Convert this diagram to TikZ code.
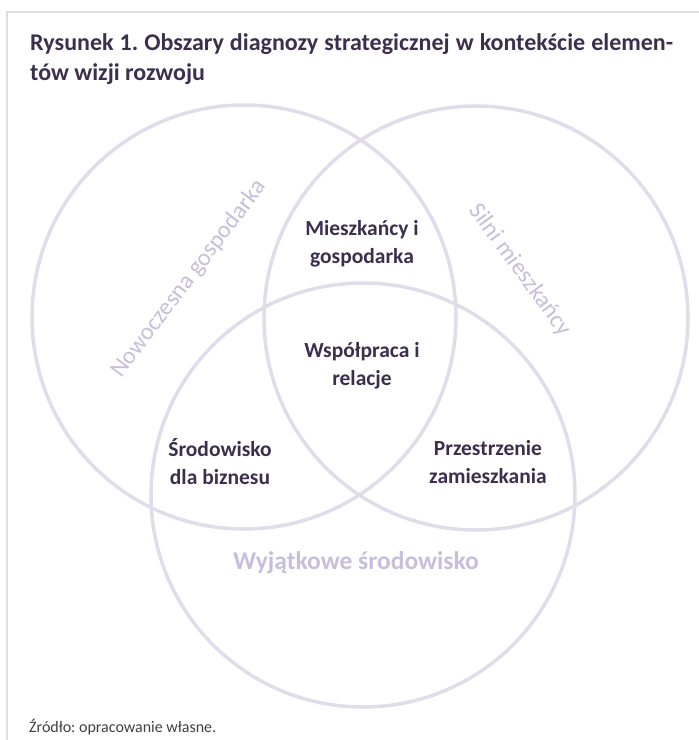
\documentclass[tikz,border=0pt]{standalone}
\usepackage{fontspec}
\setmainfont{Carlito}
\frenchspacing
\usetikzlibrary{positioning}
\definecolor{ramka}{HTML}{E0DBEC}
\definecolor{kolo}{HTML}{E0DCEA}
\definecolor{jasny}{HTML}{C6BEDA}
\definecolor{ciemny}{HTML}{3B2F4D}
\definecolor{zrodlo}{HTML}{404040}

\begin{document}
\begin{tikzpicture}[x=1pt, y=-1pt,
    kolko/.style={draw=kolo, line width=3.5pt},
    obszar/.style={font=\fontsize{21.5}{28}\selectfont\bfseries, text=ciemny, align=center, inner sep=0pt},
    element/.style={font=\fontsize{24}{28}\selectfont, text=jasny, inner sep=0pt}]
  \useasboundingbox (0,0) rectangle (699,740);
  % ramka
  \draw[ramka, line width=2pt] (7,740) -- (7,12) -- (699,12);

  % tytul
  \node[anchor=north west, text width=643pt, align=justify, inner sep=0pt,
        font=\fontsize{24}{30}\selectfont\bfseries, text=ciemny] (tytul) at (30,33)
    {Rysunek 1. Obszary diagnozy strategicznej w kontekście elemen-\linebreak tów wizji rozwoju};

  % trzy kola
  \coordinate (nowo) at (244,317);
  \coordinate (silni) at (476,318);
  \coordinate (wyj) at (363,495);
  \draw[kolko] (nowo) circle (212pt);
  \draw[kolko] (silni) circle (212pt);
  \draw[kolko] (wyj) circle (212pt);

  % nazwy kol
  \node[element, rotate=53] (gosp) at (189,279) {Nowoczesna gospodarka};
  \node[element, rotate=-54] (miesz) at (520,270) {Silni mieszkańcy};
  \node[element, font=\fontsize{25.5}{28}\selectfont\bfseries] (srod) at (356,563) {Wyjątkowe środowisko};

  % czesci wspolne
  \node[obszar] (mg) at (362,244) {Mieszkańcy i\\gospodarka};
  \node[obszar] (wr) at (362,366) {Współpraca i\\relacje};
  \node[obszar] (db) at (220,462) {Środowisko\\dla biznesu};
  \node[obszar] (pz) at (488,462) {Przestrzenie\\zamieszkania};

  % zrodlo
  \node[anchor=west, inner sep=0pt, font=\fontsize{16}{20}\selectfont, text=zrodlo] (zr) at (29,727)
    {Źródło: opracowanie własne.};
\end{tikzpicture}
\end{document}
